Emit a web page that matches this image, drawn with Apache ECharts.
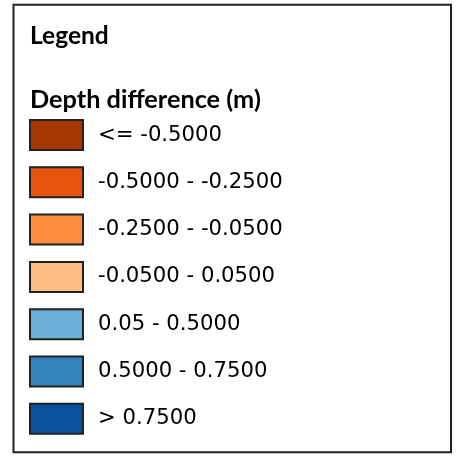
<!DOCTYPE html>
<html>
<head>
<meta charset="utf-8">
<script src="https://cdn.jsdelivr.net/npm/echarts@6/dist/echarts.min.js"></script>
<style>
html,body{margin:0;padding:0;background:#fff;}
#main{width:461px;height:456px;}
</style>
</head>
<body>
<div id="main"></div>
<script>
var legendTitle = 'Legend';
var fieldTitle = 'Depth difference (m)';
var classLabels = ['<= -0.5000', '-0.5000 - -0.2500', '-0.2500 - -0.0500', '-0.0500 - 0.0500', '0.05 - 0.5000', '0.5000 - 0.7500', '> 0.7500'];
var classColors = ['#a63603', '#e6550d', '#fd8d3c', '#fdbe85', '#6baed6', '#3182bd', '#08519c'];

var chart = echarts.init(document.getElementById('main'));
var series = classLabels.map(function (name, i) {
  return {
    type: 'bar',
    name: name,
    data: [],
    itemStyle: { color: classColors[i], borderColor: '#222', borderWidth: 1 }
  };
});
chart.setOption({
  animation: false,
  backgroundColor: '#fff',
  title: [
    { text: legendTitle, left: 30, top: 24, padding: 0,
      textStyle: { fontFamily: 'Lato', fontWeight: 'bold', fontSize: 24.5, color: '#000' } },
    { text: fieldTitle, left: 30, top: 87, padding: 0,
      textStyle: { fontFamily: 'Lato', fontWeight: 'bold', fontSize: 25.3, color: '#000' } }
  ],
  grid: { left: 0, top: 0, width: 1, height: 1, show: false },
  xAxis: { type: 'category', show: false, data: [] },
  yAxis: { type: 'value', show: false },
  legend: {
    orient: 'vertical',
    left: 29,
    top: 119,
    padding: 0,
    icon: 'rect',
    itemWidth: 53,
    itemHeight: 30,
    itemGap: 15.3,
    selectedMode: false,
    data: classLabels,
    textStyle: { fontFamily: 'DejaVu Sans', fontSize: 21.2, color: '#000', padding: [0, 0, 0, 10] }
  },
  graphic: [{
    type: 'rect', silent: true, z: 100,
    shape: { x: 13.5, y: 4.7, width: 437.5, height: 447.6 },
    style: { fill: 'none', stroke: '#222', lineWidth: 2 }
  }],
  series: series
});
</script>
</body>
</html>
